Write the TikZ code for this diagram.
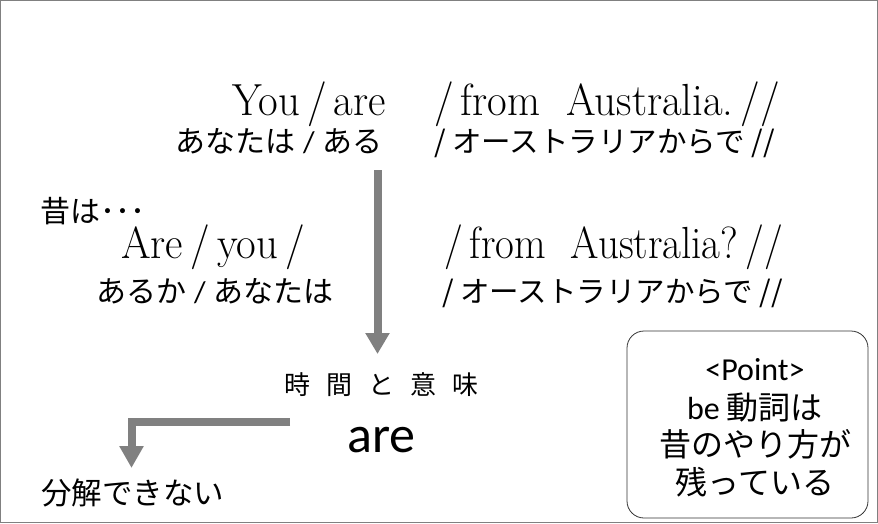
\documentclass[tikz,border=0pt]{standalone}
\usepackage{fontspec}
\usetikzlibrary{arrows.meta}
\newfontfamily\jpf{Noto Sans CJK JP}
\newfontfamily\calf{Carlito}
\definecolor{arrowgray}{RGB}{128,128,128}
\newcommand{\entext}[1]{\scalebox{0.95}[1]{#1}}
\newcommand{\jsl}{{\calf\hspace{8pt}/\hspace{8pt}}}
\tikzset{
  en/.style={inner sep=0pt, anchor=base west, font=\fontsize{45}{48}\selectfont},
  jp/.style={inner sep=0pt, anchor=base west, font=\jpf\fontsize{30}{34}\selectfont},
  pt/.style={inner sep=0pt, anchor=base, font=\calf\fontsize{32}{36}\selectfont},
  fat/.style={draw=arrowgray, line width=8pt, -{Triangle[width=23pt,length=22pt]}},
}
\begin{document}
\begin{tikzpicture}[x=1pt,y=-1pt]
\useasboundingbox (0,0) rectangle (878,523);
\draw[gray, line width=1pt] (0.5,0.5) rectangle (877.5,522.5);
% line 1
\node[en] (you) at (232,115) {\entext{You\,/\,are}};
\node[en] (from1) at (434,115) {\entext{/\,from~~Australia.\,//}};
\node[jp] (anata1) at (175,152) {あなたは\jsl ある};
\node[jp, font=\jpf\fontsize{29.5}{34}\selectfont] (oz1) at (434,152) {/ オーストラリアからで //};
% line 2
\node[jp] (mukashi) at (40,222) {昔は･･･};
\node[en] (areyou) at (121,258) {\entext{Are\,/\,you\,/}};
\node[en] (from2) at (444,258) {\scalebox{0.91}[1]{/\,from~~Australia?\,//}};
\node[jp] (aruka) at (96,302) {あるか\jsl あなたは};
\node[jp, font=\jpf\fontsize{29.5}{34}\selectfont] (oz2) at (442,302) {/ オーストラリアからで //};
% bottom
\node[jp, font=\jpf\fontsize{26}{28}\selectfont] (jikan) at (284,394) {時\hspace{16pt}間\hspace{16pt}と\hspace{16pt}意\hspace{16pt}味};
\node[inner sep=0pt, anchor=base west, font=\calf\fontsize{52}{56}\selectfont] (are) at (347,452) {are};
\node[jp, font=\jpf\fontsize{30.5}{34}\selectfont] (bunkai) at (41,504) {分解できない};
% point box
\node[draw=black!80, line width=0.8pt, rounded corners=17pt, minimum width=241pt, minimum height=187pt, inner sep=0pt] (box) at (747.5,424.5) {};
\node[pt] (p1) at (755,380) {<Point>};
\node[pt] (p2) at (755,419) {be {\jpf 動詞は}};
\node[pt, font=\jpf\fontsize{32}{36}\selectfont] (p3) at (755,456) {昔のやり方が};
\node[pt, font=\jpf\fontsize{32}{36}\selectfont] (p4) at (755,494) {残っている};
% arrows
\coordinate (v1) at (377.5,170);
\coordinate (v2) at (377.5,354);
\draw[fat, -{Triangle[width=23pt,length=21pt]}] (v1) -- (v2);
\coordinate (e1) at (290,421.5);
\coordinate (e2) at (131.5,468);
\draw[fat] (e1) -| (e2);
\end{tikzpicture}
\end{document}
